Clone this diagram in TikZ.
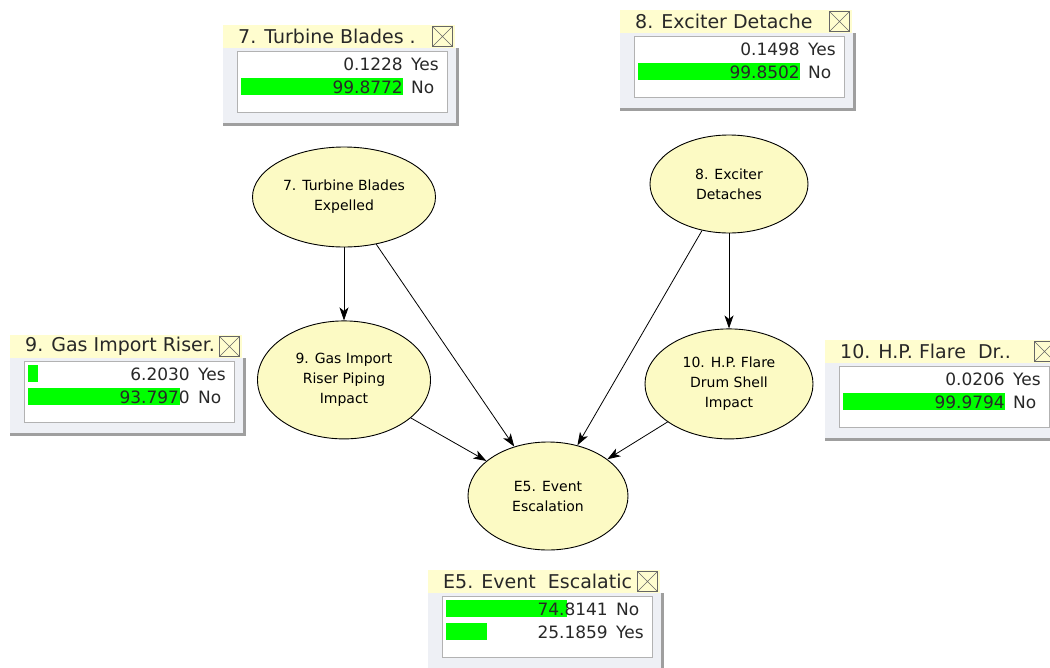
\documentclass[tikz,border=0pt]{standalone}
\usepackage{fontspec}
\setmainfont{DejaVu Sans}
\usepackage{tikz}
\usetikzlibrary{shapes, arrows.meta, positioning}
\definecolor{nodeyellow}{RGB}{252,250,196}
\definecolor{baryellow}{RGB}{255,253,207}
\definecolor{bargreen}{RGB}{0,255,0}
\definecolor{bodygray}{RGB}{238,240,245}
\definecolor{textgray}{RGB}{40,40,40}
\newcommand{\ellfont}{\fontsize{14}{20}\selectfont}
\newcommand{\titlefont}{\fontsize{19}{22}\selectfont}
\newcommand{\valfont}{\fontsize{17}{20}\selectfont}
\tikzstyle{cpt} = [ellipse, draw, line width=0.9pt, fill=nodeyellow, text centered, align=center,
    inner sep=0pt, font=\ellfont]
\tikzstyle{line} = [draw, line width=0.8pt, -{Stealth[length=13pt, width=9pt, inset=3.5pt]}]
\tikzstyle{titlebar} = [rectangle, fill=baryellow, minimum width=232pt, minimum height=23pt,
    inner sep=0pt, anchor=north west]
\tikzstyle{closebox} = [rectangle, draw=gray!80!black, fill=baryellow, minimum size=20pt, inner sep=0pt]
\tikzstyle{winbody} = [rectangle, fill=bodygray, minimum width=234pt, minimum height=76pt,
    inner sep=0pt, anchor=north west]
\tikzstyle{panel} = [rectangle, draw=gray!60, fill=white, minimum width=210pt, minimum height=61pt,
    inner sep=0pt, anchor=north west]
\tikzstyle{bartitle} = [anchor=west, inner sep=0pt, font=\titlefont, text=textgray]
\tikzstyle{val} = [anchor=base east, inner sep=0pt, font=\valfont, text=textgray]
\tikzstyle{lab} = [anchor=base west, inner sep=0pt, font=\valfont, text=textgray]
% monitor window: name, position, title, value 1, state 1, value 2, state 2
\newcommand{\netmonitor}[7]{%
  \begin{scope}[shift={(#2)}]
    \node [winbody] (#1-body) at (0,23) {};
    \draw [gray!75, line width=2.5pt] (#1-body.north east) -- (#1-body.south east) -- (#1-body.south west);
    \node [titlebar] (#1-title) at (0,0) {};
    \node [bartitle] (#1-name) at (15,11.5) {#3};
    \node [closebox] (#1-close) at (219.5,11.5) {};
    \draw [gray!80!black] (#1-close.north west) -- (#1-close.south east)
      (#1-close.north east) -- (#1-close.south west);
    \node [panel] (#1-panel) at (14,26) {};
    \ifdim #4pt<1pt\else \fill [bargreen] (18,30) rectangle ({18+1.62*#4},47);\fi
    \ifdim #6pt<1pt\else \fill [bargreen] (18,53) rectangle ({18+1.62*#6},70);\fi
    \node [val] (#1-v1) at (180,45.5) {#4};
    \node [lab] (#1-l1) at (188,45.5) {#5};
    \node [val] (#1-v2) at (180,68) {#6};
    \node [lab] (#1-l2) at (188,68) {#7};
  \end{scope}}

\begin{document}
\begin{tikzpicture}[x=1pt, y=-1pt, node distance=73pt, auto]
      \useasboundingbox (0,0) rectangle (1050,667);
      % Network
      \node [cpt, minimum width=183pt, minimum height=100pt] (turbine) at (344,197) {7. Turbine Blades\\Expelled};
      \node [cpt, minimum width=173pt, minimum height=118pt, below=73pt of turbine] (riser) {9. Gas Import\\Riser Piping\\Impact};
      \node [cpt, minimum width=158pt, minimum height=98pt] (exciter) at (729,184) {8. Exciter\\Detaches};
      \node [cpt, minimum width=168pt, minimum height=110pt, below=95pt of exciter] (flare) {10. H.P. Flare\\Drum Shell\\Impact};
      \node [cpt, minimum width=160pt, minimum height=108pt] (escalation) at (548,496) {E5. Event\\Escalation};
      % Draw edges
      \path [line] (turbine) -- (riser);
      \path [line] (turbine) -- (escalation);
      \path [line] (exciter) -- (flare);
      \path [line] (exciter) -- (escalation);
      \path [line] (riser) -- (escalation);
      \path [line] (flare) -- (escalation);
      % Monitors
      \netmonitor{mturbine}{223,25}{7. Turbine Blades .}{0.1228}{Yes}{99.8772}{No}
      \netmonitor{mexciter}{620,10}{8. Exciter Detache}{0.1498}{Yes}{99.8502}{No}
      \netmonitor{mriser}{10,335}{9. Gas Import Riser.}{6.2030}{Yes}{93.7970}{No}
      \netmonitor{mflare}{825,340}{10. H.P. Flare\ \ Dr..}{0.0206}{Yes}{99.9794}{No}
      \netmonitor{mescal}{428,570}{E5. Event\ \ Escalatic}{74.8141}{No}{25.1859}{Yes}
  \end{tikzpicture}
\end{document}
